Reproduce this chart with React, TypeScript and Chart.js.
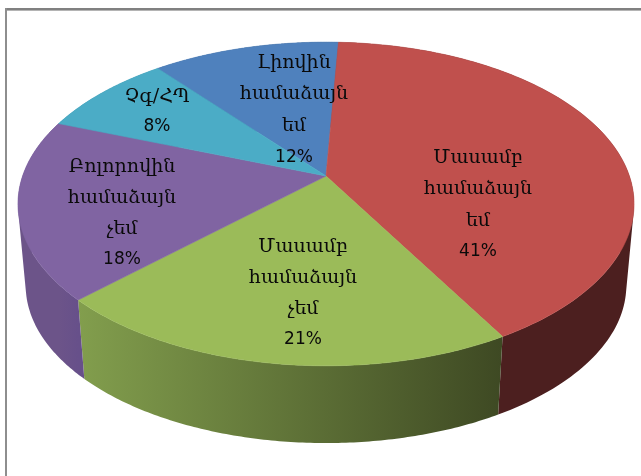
import React, { useEffect, useRef } from "react";
import { Chart, registerables } from "chart.js";

Chart.register(...registerables);

const categories = [
  "Լիովին համաձայն եմ",
  "Մասամբ համաձայն եմ",
  "Մասամբ համաձայն չեմ",
  "Բոլորովին համաձայն չեմ",
  "Չգ/ՀՊ",
];
const shares = [11.6, 41, 21, 18, 8.4];
const labelLines = [
  ["Լիովին", "համաձայն", "եմ"],
  ["Մասամբ", "համաձայն", "եմ"],
  ["Մասամբ", "համաձայն", "չեմ"],
  ["Բոլորովին", "համաձայն", "չեմ"],
  ["Չգ/ՀՊ"],
];

const topColors = ["#4F81BD", "#C0504D", "#9BBB59", "#8064A2", "#4BACC6"];
const wallStops = [
  ["#3A5A80", "#2A4560"],
  ["#4F2121", "#4C1F1F"],
  ["#829E4D", "#3E4923"],
  ["#6C5489", "#67508A"],
  ["#338096", "#338096"],
];
const labelCentres = [
  [294, 63, 31.5],
  [478, 158, 31.3],
  [303, 247, 31],
  [122, 167, 31],
  [157, 97, 30],
];

const CX = 326;
const CY = 176;
const SX = 303.4;
const SY = 157;
const K = 0.1728;
const WALL_DROP = 82;
const WALL_SCALE = 0.975;

// Perspective projection of a rim point; angle is the Chart.js arc angle
function project(angle: number, wall: boolean) {
  const compass = angle + Math.PI / 2;
  const u = Math.sin(compass);
  const v = Math.cos(compass);
  const r = 1 + K * v;
  const dx = (SX * u) / r;
  const dy = (-SY * v) / r;
  if (wall) {
    return [CX + dx * WALL_SCALE, CY + WALL_DROP + dy * WALL_SCALE];
  }
  return [CX + dx, CY + dy];
}

function rimAngle(from: number, to: number, i: number, steps: number) {
  return from + ((to - from) * i) / steps;
}

const pie3d = {
  id: "pie3d",
  beforeDatasetDraw(chart: any) {
    const ctx: CanvasRenderingContext2D = chart.ctx;
    const arcs = chart.getDatasetMeta(0).data;
    const steps = 120;

    // frame
    ctx.save();
    ctx.fillStyle = "#808080";
    ctx.fillRect(5, 8, 636, 2);
    ctx.fillStyle = "#B4B4B4";
    ctx.fillRect(5, 10, 636, 1);
    ctx.fillStyle = "#8E8E8E";
    ctx.fillRect(5, 8, 2, 468);
    ctx.restore();

    // side walls: one path of quads swept from the top rim to the lower rim
    arcs.forEach((arc: any, i: number) => {
      const from = arc.startAngle;
      const to = arc.endAngle;
      const xs: number[] = [];
      for (let s = 0; s <= steps; s++) xs.push(project(rimAngle(from, to, s, steps), false)[0]);
      const g = ctx.createLinearGradient(Math.min(xs[0], xs[steps]), 0, Math.max(xs[0], xs[steps]), 0);
      g.addColorStop(0, wallStops[i][0]);
      g.addColorStop(1, wallStops[i][1]);
      ctx.save();
      ctx.fillStyle = g;
      ctx.beginPath();
      for (let s = 0; s < steps; s++) {
        const a0 = rimAngle(from, to, s, steps);
        const a1 = rimAngle(from, to, s + 1, steps);
        let q = [project(a0, false), project(a1, false), project(a1, true), project(a0, true)];
        let area = 0;
        for (let n = 0; n < 4; n++) {
          const p = q[n];
          const o = q[(n + 1) % 4];
          area += p[0] * o[1] - o[0] * p[1];
        }
        if (area < 0) q = q.reverse();
        ctx.moveTo(q[0][0], q[0][1]);
        ctx.lineTo(q[1][0], q[1][1]);
        ctx.lineTo(q[2][0], q[2][1]);
        ctx.lineTo(q[3][0], q[3][1]);
        ctx.closePath();
      }
      ctx.fill();
      ctx.restore();
    });

    // top surface
    arcs.forEach((arc: any, i: number) => {
      ctx.save();
      ctx.fillStyle = topColors[i];
      ctx.strokeStyle = topColors[i];
      ctx.lineWidth = 0.6;
      ctx.beginPath();
      ctx.moveTo(CX, CY);
      for (let s = 0; s <= steps; s++) {
        const p = project(rimAngle(arc.startAngle, arc.endAngle, s, steps), false);
        ctx.lineTo(p[0], p[1]);
      }
      ctx.closePath();
      ctx.fill();
      ctx.stroke();
      ctx.restore();
    });

    // labels
    ctx.save();
    ctx.fillStyle = "#0A0A0A";
    ctx.textAlign = "center";
    ctx.textBaseline = "middle";
    labelLines.forEach((lines, i) => {
      const [x, y, gap] = labelCentres[i];
      ctx.font = '19px "DejaVu Serif"';
      lines.forEach((line, j) => ctx.fillText(line, x, y + j * gap));
      ctx.font = '17px "DejaVu Sans"';
      ctx.fillText(Math.round(shares[i]) + "%", x, y + lines.length * gap);
    });
    ctx.restore();
    return false;
  },
};

export default function App() {
  const ref = useRef<HTMLCanvasElement>(null);
  useEffect(() => {
    const chart = new Chart(ref.current!, {
      type: "pie",
      data: {
        labels: categories,
        datasets: [{ data: shares, backgroundColor: topColors, borderWidth: 0 }],
      },
      options: {
        animation: false,
        responsive: false,
        rotation: -39,
        plugins: { legend: { display: false }, tooltip: { enabled: false } },
      },
      plugins: [pie3d],
    });
    return () => chart.destroy();
  }, []);
  return (
    <div style={{ position: "absolute", left: 0, top: 0, width: 641, height: 476, background: "#fff" }}>
      <canvas ref={ref} width={641} height={476} style={{ display: "block" }} />
    </div>
  );
}
